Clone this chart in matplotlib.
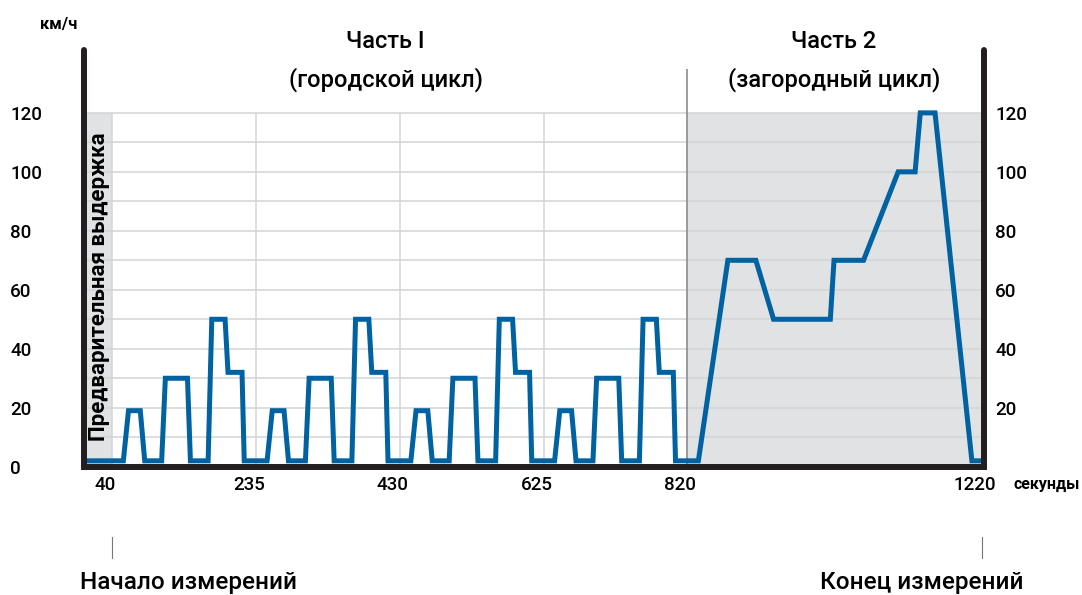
import matplotlib
matplotlib.use("Agg")
import matplotlib.pyplot as plt
from matplotlib.transforms import ScaledTranslation

plt.rcParams['font.family'] = ['Roboto', 'DejaVu Sans']

# speed profile: time (s), speed (km/h)
urban_t = [4, 55, 62, 78, 84, 107, 112, 142, 146, 170, 175, 193, 197, 216, 219,
           250, 257, 273, 279, 302, 307, 337, 341, 365, 370, 388, 392, 411, 414,
           445, 452, 468, 474, 497, 502, 532, 536, 560, 565, 583, 587, 606, 609,
           640, 647, 663, 669, 692, 697, 727, 731, 755, 760, 778, 782, 801, 804]
urban_v = [2, 2, 19, 19, 2, 2, 30, 30, 2, 2, 50, 50, 32, 32, 2,
           2, 19, 19, 2, 2, 30, 30, 2, 2, 50, 50, 32, 32, 2,
           2, 19, 19, 2, 2, 30, 30, 2, 2, 50, 50, 32, 32, 2,
           2, 19, 19, 2, 2, 30, 30, 2, 2, 50, 50, 32, 32, 2]
extra_t = [835, 875, 913, 937, 1014, 1019, 1059, 1106, 1129, 1136, 1156, 1206, 1222]
extra_v = [2, 70, 70, 50, 50, 70, 70, 100, 100, 120, 120, 2, 2]

x_ticks = [40, 235, 430, 625, 820, 1220]
y_ticks_left = [0, 20, 40, 60, 80, 100, 120]
y_ticks_right = [20, 40, 60, 80, 100, 120]
h_grid = [10, 20, 30, 40, 50, 60, 70, 80, 90, 100, 110, 120]
v_grid = [40, 235, 430, 625]

x_min, x_max = 1.6, 1222.4
y_max = 141.3

fig = plt.figure(figsize=(10.82, 5.95), dpi=100)
ax = fig.add_axes([0.0776, 0.2156, 0.8318, 0.7003])
ax.set_xlim(x_min, x_max)
ax.set_ylim(0, y_max)

shade = '#e1e2e4'
ax.axvspan(x_min, 40, ymin=0, ymax=120 / y_max, color=shade, lw=0, zorder=0)
ax.axvspan(820, x_max, ymin=0, ymax=120 / y_max, color=shade, lw=0, zorder=0)

ax.hlines(h_grid, x_min, x_max, color='#d3d4d6', lw=1.1, zorder=1)
ax.vlines(v_grid, 0, 120, color='#d3d4d6', lw=1.1, zorder=1)
ax.vlines(820, 0, 135, color='#8c8c8c', lw=1.2, zorder=1)

blue = '#0062a1'
ax.plot(urban_t + extra_t, urban_v + extra_v, color=blue, lw=3.6,
        solid_joinstyle='miter', zorder=3)

for side in ['left', 'right', 'bottom']:
    ax.spines[side].set_linewidth(4.3)
    ax.spines[side].set_color('#231f20')
    ax.spines[side].set_zorder(4)
ax.spines['left'].set_capstyle('round')
ax.spines['right'].set_capstyle('round')
ax.spines['bottom'].set_capstyle('projecting')
ax.spines['top'].set_visible(False)

ax.set_yticks(y_ticks_left)
ax.tick_params(axis='y', length=0, pad=53, labelsize=13.5)
for lab in ax.get_yticklabels():
    lab.set_horizontalalignment('left')
    lab.set_fontweight('medium')

ax.set_xticks(x_ticks)
ax.tick_params(axis='x', length=0, pad=7, labelsize=13.5)
for lab in ax.get_xticklabels():
    lab.set_transform(lab.get_transform() + ScaledTranslation(-7 / 100, 0, fig.dpi_scale_trans))
    lab.set_fontweight('medium')

ax2 = ax.twinx()
ax2.set_ylim(0, y_max)
ax2.set_yticks(y_ticks_right)
ax2.tick_params(axis='y', length=0, pad=8, labelsize=13.5)
for lab in ax2.get_yticklabels():
    lab.set_fontweight('medium')
for s in ax2.spines.values():
    s.set_visible(False)

ax.text(22, 61, 'Предварительная выдержка', rotation=90, ha='center', va='center',
        fontsize=16, fontweight='bold', zorder=5)

# marks below the axis for start / end of measurement
ax.plot([40, 40], [-24, -31], color='#777777', lw=0.8, clip_on=False)
ax.plot([1220, 1220], [-24, -31], color='#777777', lw=0.8, clip_on=False)

fig.text(59 / 1082, 1 - 25 / 595, 'км/ч', ha='center', va='center', fontsize=12, fontweight='bold')
fig.text(1014 / 1082, 1 - 484 / 595, 'секунды', ha='left', va='center', fontsize=11.5, fontweight='bold')

fig.text(385 / 1082, 1 - 42 / 595, 'Часть I', ha='center', va='center', fontsize=17, fontweight='medium')
fig.text(386 / 1082, 1 - 80 / 595, '(городской цикл)', ha='center', va='center', fontsize=17, fontweight='medium')
fig.text(834 / 1082, 1 - 42 / 595, 'Часть 2', ha='center', va='center', fontsize=17, fontweight='medium')
fig.text(834 / 1082, 1 - 80 / 595, '(загородный цикл)', ha='center', va='center', fontsize=17, fontweight='medium')

fig.text(188 / 1082, 1 - 582 / 595, 'Начало измерений', ha='center', va='center', fontsize=17.5, fontweight='medium')
fig.text(922 / 1082, 1 - 582 / 595, 'Конец измерений', ha='center', va='center', fontsize=17.5, fontweight='medium')

fig.savefig('out.png', dpi=100)
